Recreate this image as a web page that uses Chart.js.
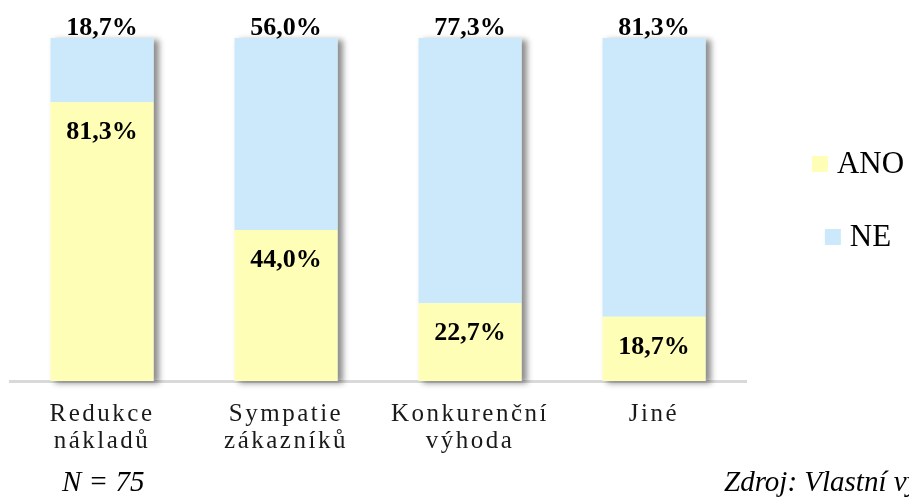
<!DOCTYPE html>
<html>
<head>
<meta charset="utf-8">
<script src="https://cdn.jsdelivr.net/npm/chart.js@4/dist/chart.umd.min.js"></script>
<style>
  html, body { margin: 0; padding: 0; background: #fff; }
  #wrap { width: 909px; height: 498px; }
</style>
</head>
<body>
<div id="wrap"><canvas id="chart" width="909" height="498"></canvas></div>
<script>
// Data
const categories = [['Redukce', 'nákladů'], ['Sympatie', 'zákazníků'], ['Konkurenční', 'výhoda'], ['Jiné']];
const seriesNames = ['ANO', 'NE'];
const anoValues = [81.3, 44.0, 22.7, 18.7];
const neValues = [18.7, 56.0, 77.3, 81.3];
const footLeft = 'N = 75';
const footRight = 'Zdroj: Vlastní výzkum';

const yellow = '#FEFEB6';
const blue = '#CBE9FB';
const serif = "'Liberation Serif', 'Times New Roman', serif";

function pct(v) {
    return v.toFixed(1).replace('.', ',') + '%';
}

// spaced-out axis labels (letterSpacing is reset before the bars get drawn)
const spacing = {
    id: 'spacing',
    beforeDraw(chart) { chart.ctx.letterSpacing = '2.5px'; },
    beforeDatasetsDraw(chart) { chart.ctx.letterSpacing = '0px'; }
};

// soft shadow to the right of each whole stacked bar
const barShadow = {
    id: 'barShadow',
    beforeDatasetsDraw(chart) {
        const ctx = chart.ctx;
        const ano = chart.getDatasetMeta(0).data;
        const ne = chart.getDatasetMeta(1).data;
        ano.forEach((bar, i) => {
            const top = Math.min(ne[i].y, bar.y);
            const left = bar.x - bar.width / 2;
            ctx.save();
            ctx.shadowColor = 'rgba(0,0,0,0.45)';
            ctx.shadowBlur = 6;
            ctx.shadowOffsetX = 5;
            ctx.shadowOffsetY = 2;
            ctx.fillStyle = '#ffffff';
            ctx.fillRect(left, top, bar.width, bar.base - top);
            ctx.restore();
        });
    }
};

// value labels: ANO inside the yellow part, NE above the bar
const valueLabels = {
    id: 'valueLabels',
    afterDatasetsDraw(chart) {
        const ctx = chart.ctx;
        ctx.save();
        ctx.font = 'bold 26px ' + serif;
        ctx.fillStyle = '#000';
        ctx.textAlign = 'center';
        ctx.textBaseline = 'alphabetic';
        chart.getDatasetMeta(0).data.forEach((bar, i) => {
            ctx.fillText(pct(anoValues[i]), bar.x, bar.y + 37);
        });
        chart.getDatasetMeta(1).data.forEach((bar, i) => {
            ctx.fillText(pct(neValues[i]), bar.x, bar.y - 3);
        });
        ctx.restore();
    }
};

// legend on the right + footer notes
const sideLegend = {
    id: 'sideLegend',
    afterDraw(chart) {
        const ctx = chart.ctx;
        const rows = [164, 237];
        ctx.save();
        ctx.font = '31px ' + serif;
        ctx.textBaseline = 'middle';
        ctx.textAlign = 'left';
        chart.data.datasets.forEach((ds, i) => {
            const w = ctx.measureText(ds.label).width;
            const total = 16 + 9 + w;
            const x0 = 858 - total / 2;
            ctx.fillStyle = ds.backgroundColor;
            ctx.fillRect(x0, rows[i] - 8, 16, 16);
            ctx.fillStyle = '#000';
            ctx.fillText(ds.label, x0 + 25, rows[i] + 1);
        });

        ctx.font = 'italic 29px ' + serif;
        ctx.textBaseline = 'alphabetic';
        ctx.fillText(footLeft, 62, 491);
        ctx.fillText(footRight, 724, 491);
        ctx.restore();
    }
};

const ctx = document.getElementById('chart').getContext('2d');
const chart = new Chart(ctx, {
    type: 'bar',
    data: {
        labels: categories,
        datasets: [{
            label: seriesNames[0],
            data: anoValues,
            backgroundColor: yellow,
            borderWidth: 0
        }, {
            label: seriesNames[1],
            data: neValues,
            backgroundColor: blue,
            borderWidth: 0
        }]
    },
    options: {
        responsive: false,
        animation: false,
        events: [],
        layout: {
            padding: { top: 38, left: 10, right: 163, bottom: 23 }
        },
        datasets: {
            bar: { barPercentage: 0.56, categoryPercentage: 1.0 }
        },
        plugins: {
            legend: { display: false }, // drawn by sideLegend
            tooltip: { enabled: false }
        },
        scales: {
            x: {
                stacked: true,
                grid: { display: true, drawOnChartArea: false, drawTicks: false },
                border: { display: true, color: '#d9d9d9', width: 3 },
                ticks: {
                    color: '#1a1a1a',
                    padding: 20,
                    maxRotation: 0,
                    autoSkip: false,
                    font: { family: serif, size: 25, lineHeight: '27px' }
                }
            },
            y: {
                stacked: true,
                display: false,
                min: 0,
                max: 100
            }
        }
    },
    plugins: [spacing, barShadow, valueLabels, sideLegend]
});
</script>
</body>
</html>
